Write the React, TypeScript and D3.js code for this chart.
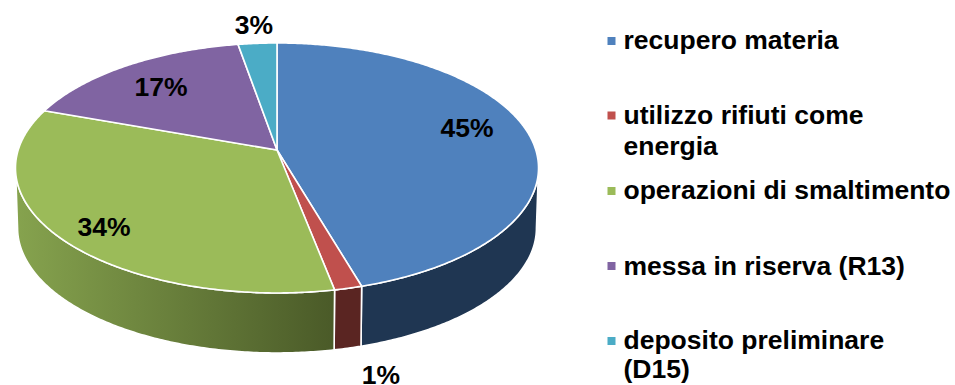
import React from "react";
import * as d3 from "d3";

const WIDTH = 955;
const HEIGHT = 385;

// Shares of waste by destination, in percent.
const categories = ["recupero materia", "utilizzo rifiuti come energia", "operazioni di smaltimento", "messa in riserva (R13)", "deposito preliminare (D15)"];
const shares = [45.45, 1.49, 33.51, 16.8, 2.75];
const topColors = ["#4f81bd", "#c0504d", "#9bbb59", "#8064a2", "#4bacc6"];
const wallLeftColors = ["#1f3652", "#5a2522", "#86a34e", "#4a3a60", "#2a6a7c"];
const wallRightColors = ["#1f3652", "#5a2522", "#4a5a28", "#4a3a60", "#2a6a7c"];

// Legend text, one entry per category, wrapped as it is set on the page.
const legendLines = [["recupero materia"], ["utilizzo rifiuti come", "energia"], ["operazioni di smaltimento"], ["messa in riserva (R13)"], ["deposito preliminare", "(D15)"]];
const legendRowTops = [41, 115.5, 191, 266, 341];
const legendBaselines = [[49], [124, 155], [199], [275], [349, 378]];

// Hand-placed centres of the percentage labels.
const labelCenters: [number, number][] = [[467, 128], [381, 375], [104, 227], [161, 87], [254, 25]];

// Perspective view of the pie's disc: the disc centre lands above the middle of the rim ellipse.
const CX = 277;
const CY = 150;
const SCALE_X = 258.8;
const SCALE_Y = 122.4;
const TILT = 0.1438;
const DEPTH = 60;
const BASE_SCALE = 0.992;
const FONT_SIZE = 26.5;

const project = (angle: number): [number, number] => {
  const u = Math.sin(angle);
  const v = -Math.cos(angle);
  const w = 1 - TILT * v;
  return [CX + (SCALE_X * u) / w, CY + (SCALE_Y * v) / w];
};
const projectBase = (angle: number): [number, number] => {
  const [x, y] = project(angle);
  return [CX + (x - CX) * BASE_SCALE, y + DEPTH];
};

// The wall is only seen between the two widest points of the rim.
const FRONT_START = Math.acos(-TILT);
const FRONT_END = 2 * Math.PI - FRONT_START;

const sweep = (a0: number, a1: number) => {
  const n = Math.max(2, Math.ceil(Math.abs(a1 - a0) / 0.01));
  return d3.range(n + 1).map((i) => a0 + ((a1 - a0) * i) / n);
};

const slices = d3.pie<number>().sort(null).value((d) => d)(shares);
const outline = d3.line();

export default function App() {
  const color = d3.scaleOrdinal<number, string>().domain(d3.range(shares.length)).range(topColors);

  const walls = slices
    .map((s, i) => {
      const a0 = Math.max(s.startAngle, FRONT_START);
      const a1 = Math.min(s.endAngle, FRONT_END);
      if (a1 <= a0) return null;
      const top = sweep(a0, a1).map((a) => project(a));
      const base = sweep(a1, a0).map((a) => projectBase(a));
      const xs = top.map((p) => p[0]);
      return { i, path: outline([...top, ...base]) + "Z", x0: d3.min(xs)!, x1: d3.max(xs)! };
    })
    .filter(Boolean) as { i: number; path: string; x0: number; x1: number }[];

  const faces = slices.map((s, i) => ({
    i,
    path: outline([[CX, CY], ...sweep(s.startAngle, s.endAngle).map((a) => project(a))]) + "Z",
  }));

  return (
    <svg width={WIDTH} height={HEIGHT} style={{ position: "absolute", left: 0, top: 0, display: "block" }}>
      <defs>
        {walls.map((w) => (
          <linearGradient key={w.i} id={`wall-${w.i}`} gradientUnits="userSpaceOnUse" x1={w.x0} x2={w.x1} y1={0} y2={0}>
            <stop offset="0" stopColor={wallLeftColors[w.i]} />
            <stop offset="1" stopColor={wallRightColors[w.i]} />
          </linearGradient>
        ))}
      </defs>
      {walls.map((w) => (
        <path key={w.i} d={w.path} fill={`url(#wall-${w.i})`} stroke="#fff" strokeWidth={1.6} strokeLinejoin="round" />
      ))}
      {faces.map((f) => (
        <path key={f.i} d={f.path} fill={color(f.i)} stroke="#fff" strokeWidth={1.6} strokeLinejoin="round" />
      ))}
      <g fontFamily="'Liberation Sans', Arial, sans-serif" fontWeight="bold" fill="#000">
        {shares.map((v, i) => (
          <text key={i} x={labelCenters[i][0]} y={labelCenters[i][1] + 9} textAnchor="middle" fontSize={FONT_SIZE}>
            {`${Math.round(v)}%`}
          </text>
        ))}
        {categories.map((c, i) => (
          <g key={c}>
            <rect x={607.5} y={legendRowTops[i] - 4} width={8} height={8} fill={color(i)} />
            {legendLines[i].map((line, j) => (
              <text key={j} x={623.5} y={legendBaselines[i][j]} fontSize={FONT_SIZE}>
                {line}
              </text>
            ))}
          </g>
        ))}
      </g>
    </svg>
  );
}
